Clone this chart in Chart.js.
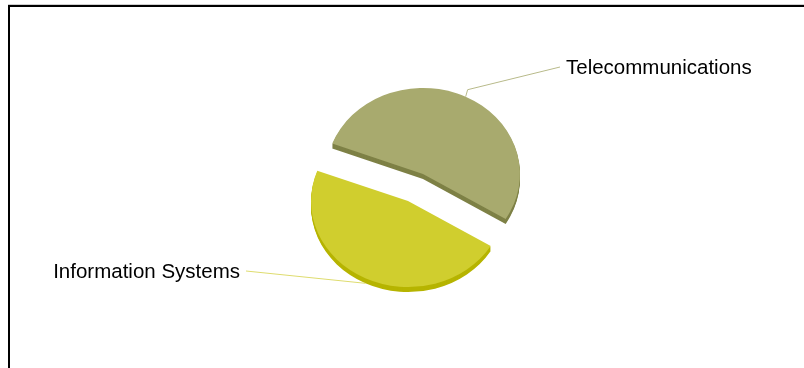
<!DOCTYPE html>
<html>
<head>
<meta charset="utf-8">
<script src="https://cdn.jsdelivr.net/npm/chart.js@4/dist/chart.umd.min.js"></script>
<style>
  html,body{margin:0;padding:0;background:#fff;}
  #wrap{position:relative;width:804px;height:368px;overflow:hidden;}
  #frame{position:absolute;left:8px;top:5px;right:-10px;bottom:-10px;border-left:2px solid #000;border-top:2px solid #000;box-shadow:0 -1px 0 #cfcfcf;}
  canvas{position:absolute;left:0;top:0;}
</style>
</head>
<body>
<div id="wrap">
  <div id="frame"></div>
  <canvas id="c" width="804" height="368"></canvas>
</div>
<script>
const categories = ['Telecommunications', 'Information Systems'];
const values = [53, 47];
const faceColors = ['rgb(168,170,110)', 'rgb(208,206,46)'];
const sideColors = ['rgb(126,129,70)', 'rgb(182,180,0)'];
const leaderColors = ['rgb(184,186,138)', 'rgb(222,220,110)'];

const TILT = 0.887;
const EXPLODE = 17;
const DEPTH = 5;

const pie3d = {
  id: 'pie3d',
  beforeDatasetsDraw(chart) {
    const ctx = chart.ctx;
    const meta = chart.getDatasetMeta(0);
    const ca = chart.chartArea;
    const cx = (ca.left + ca.right) / 2, cy = (ca.top + ca.bottom) / 2;
    meta.data.forEach((arc, i) => {
      const mid = (arc.startAngle + arc.endAngle) / 2;
      const dx = Math.cos(mid) * EXPLODE, dy = Math.sin(mid) * EXPLODE;
      for (let k = DEPTH; k >= 0; k--) {
        ctx.save();
        ctx.translate(0, k);
        ctx.translate(cx, cy); ctx.scale(1, TILT); ctx.translate(-cx, -cy);
        ctx.translate(dx, dy);
        const p = Object.create(arc);
        p.options = Object.assign({}, arc.options, {
          backgroundColor: k ? sideColors[i] : faceColors[i],
          borderWidth: 0
        });
        arc.draw.call(p, ctx);
        ctx.restore();
      }
    });
    return false;
  },
  afterDraw(chart) {
    const ctx = chart.ctx;
    const meta = chart.getDatasetMeta(0);
    const ca = chart.chartArea;
    const cx = (ca.left + ca.right) / 2, cy = (ca.top + ca.bottom) / 2;
    const labelLayout = [
      {elbow: [2, -7], end: [560, 67], text: [566, 74], align: 'left', extraDepth: 0},
      {elbow: [0, 0], end: [246, 271], text: [240, 278], align: 'right', extraDepth: DEPTH}
    ];
    ctx.save();
    ctx.font = '20.5px "Liberation Sans", Arial, sans-serif';
    meta.data.forEach((arc, i) => {
      const mid = (arc.startAngle + arc.endAngle) / 2;
      const r = arc.outerRadius;
      const ax = cx + Math.cos(mid) * (r + EXPLODE);
      const ay = cy + Math.sin(mid) * (r + EXPLODE) * TILT + labelLayout[i].extraDepth;
      const L = labelLayout[i];
      ctx.strokeStyle = leaderColors[i];
      ctx.lineWidth = 1;
      ctx.beginPath();
      ctx.moveTo(ax, ay);
      ctx.lineTo(ax + L.elbow[0], ay + L.elbow[1]);
      ctx.lineTo(L.end[0], L.end[1]);
      ctx.stroke();
      ctx.fillStyle = '#000';
      ctx.textAlign = L.align;
      ctx.textBaseline = 'alphabetic';
      ctx.fillText(categories[i], L.text[0], L.text[1]);
    });
    ctx.restore();
  }
};

new Chart(document.getElementById('c'), {
  type: 'pie',
  data: {
    labels: categories,
    datasets: [{
      data: values,
      backgroundColor: faceColors,
      borderWidth: 0,
      radius: 97
    }]
  },
  options: {
    responsive: false,
    animation: false,
    rotation: 290.7,
    layout: {padding: {left: 27, right: 0, top: 7, bottom: 0}},
    plugins: {legend: {display: false}, tooltip: {enabled: false}}
  },
  plugins: [pie3d]
});
</script>
</body>
</html>
